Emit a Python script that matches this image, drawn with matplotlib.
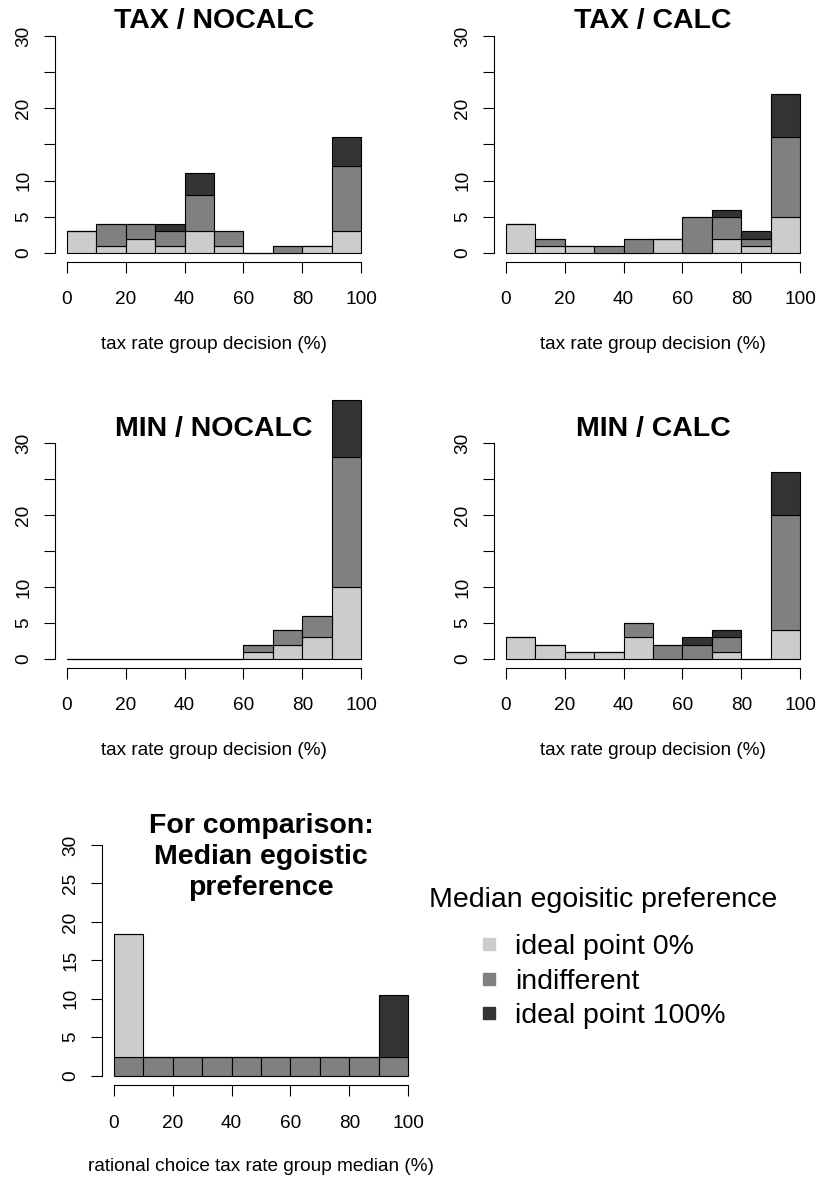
import matplotlib
matplotlib.use("Agg")
import matplotlib.pyplot as plt
from matplotlib.lines import Line2D

plt.rcParams['font.family'] = ['Liberation Sans', 'DejaVu Sans']

W, H = 819, 1180

# bin left edges, 10% wide
bins = [0, 10, 20, 30, 40, 50, 60, 70, 80, 90]

# counts per bin: ideal point 0% / indifferent / ideal point 100%
tax_nocalc_low = [3, 1, 2, 1, 3, 1, 0, 0, 1, 3]
tax_nocalc_mid = [0, 3, 2, 2, 5, 2, 0, 1, 0, 9]
tax_nocalc_high = [0, 0, 0, 1, 3, 0, 0, 0, 0, 4]

tax_calc_low = [4, 1, 1, 0, 0, 2, 0, 2, 1, 5]
tax_calc_mid = [0, 1, 0, 1, 2, 0, 5, 3, 1, 11]
tax_calc_high = [0, 0, 0, 0, 0, 0, 0, 1, 1, 6]

min_nocalc_low = [0, 0, 0, 0, 0, 0, 1, 2, 3, 10]
min_nocalc_mid = [0, 0, 0, 0, 0, 0, 1, 2, 3, 18]
min_nocalc_high = [0, 0, 0, 0, 0, 0, 0, 0, 0, 8]

min_calc_low = [3, 2, 1, 1, 3, 0, 0, 1, 0, 4]
min_calc_mid = [0, 0, 0, 0, 2, 2, 2, 2, 0, 16]
min_calc_high = [0, 0, 0, 0, 0, 0, 1, 1, 0, 6]

# comparison panel (indifferent at the bottom)
comp_mid = [2.4, 2.4, 2.4, 2.4, 2.4, 2.4, 2.4, 2.4, 2.4, 2.4]
comp_low = [16.0, 0, 0, 0, 0, 0, 0, 0, 0, 0]
comp_high = [0, 0, 0, 0, 0, 0, 0, 0, 0, 8.1]

col_low = '#CCCCCC'
col_mid = '#808080'
col_high = '#333333'

legend_labels = ['ideal point 0%', 'indifferent', 'ideal point 100%']
xticks = [0, 20, 40, 60, 80, 100]


def rect(l, r, t, b):
    return [l / W, 1 - b / H, (r - l) / W, (b - t) / H]


def setup(ax, yticks, ylabels, xlabel, label_y):
    ax.set_xlim(-4, 104)
    ax.set_ylim(-1.2, 31.2)
    for s in ['top', 'right']:
        ax.spines[s].set_visible(False)
    ax.spines['left'].set_bounds(0, 30)
    ax.spines['bottom'].set_bounds(0, 100)
    for s in ['left', 'bottom']:
        ax.spines[s].set_linewidth(0.8)
    ax.set_xticks(xticks)
    ax.set_yticks(yticks)
    ax.set_yticklabels(ylabels)
    ax.tick_params(length=7.9, width=0.8, labelsize=13.7)
    ax.tick_params(axis='x', pad=13.5)
    ax.tick_params(axis='y', labelrotation=90, pad=8.5)
    for lab in ax.get_yticklabels():
        lab.set_va('center')
    ax.set_xlabel(xlabel, fontsize=13.7)
    ax.xaxis.set_label_coords(0.5, label_y)
    ax.xaxis.label.set_va('center')


def stacked(ax, layers):
    bottom = [0] * len(bins)
    for vals, col in layers:
        ax.bar(bins, vals, width=10, bottom=bottom, align='edge', color=col,
               edgecolor='black', linewidth=0.8, clip_on=False)
        bottom = [b + v for b, v in zip(bottom, vals)]


fig = plt.figure(figsize=(W / 100, H / 100), dpi=100)

panels = [
    ('TAX / NOCALC', rect(55, 373, 27.3, 261.7), 21,
     tax_nocalc_low, tax_nocalc_mid, tax_nocalc_high),
    ('TAX / CALC', rect(494, 812, 27.3, 261.7), 21,
     tax_calc_low, tax_calc_mid, tax_calc_high),
    ('MIN / NOCALC', rect(55, 373, 434.4, 667.6), 429,
     min_nocalc_low, min_nocalc_mid, min_nocalc_high),
    ('MIN / CALC', rect(494, 812, 434.4, 667.6), 429,
     min_calc_low, min_calc_mid, min_calc_high),
]

for title, r, ty, low, mid, high in panels:
    ax = fig.add_axes(r)
    stacked(ax, [(low, col_low), (mid, col_mid), (high, col_high)])
    setup(ax, [0, 5, 10, 15, 20, 25, 30], ['0', '5', '10', '', '20', '', '30'],
          'tax rate group decision (%)', -83 / 234.4)
    cx = (r[0] + r[2] / 2)
    fig.text(cx, 1 - ty / H, title, ha='center', va='center',
             fontsize=20.5, fontweight='bold')

# comparison panel
r = rect(102, 420, 835.8, 1084.9)
ax = fig.add_axes(r)
stacked(ax, [(comp_mid, col_mid), (comp_low, col_low), (comp_high, col_high)])
setup(ax, [0, 5, 10, 15, 20, 25, 30], ['0', '5', '10', '15', '20', '25', '30'],
      'rational choice tax rate group median (%)', -82 / 249.1)
fig.text(r[0] + r[2] / 2, 1 - 857 / H, 'For comparison:\nMedian egoistic\npreference',
         ha='center', va='center', fontsize=20.5, fontweight='bold',
         linespacing=1.27)

# legend
fig.text(603 / W, 1 - 900 / H, 'Median egoisitic preference', ha='center',
         va='center', fontsize=20.5)
handles = [Line2D([], [], marker='s', ls='', color=c, markersize=8.6)
           for c in [col_low, col_mid, col_high]]
fig.legend(handles, legend_labels, loc='upper left',
           bbox_to_anchor=(478 / W, 1 - 934 / H), frameon=False,
           fontsize=20.5, handlelength=0.8, handletextpad=0.5,
           labelspacing=0.3, borderpad=0, borderaxespad=0)

fig.savefig('out.png', dpi=100)
